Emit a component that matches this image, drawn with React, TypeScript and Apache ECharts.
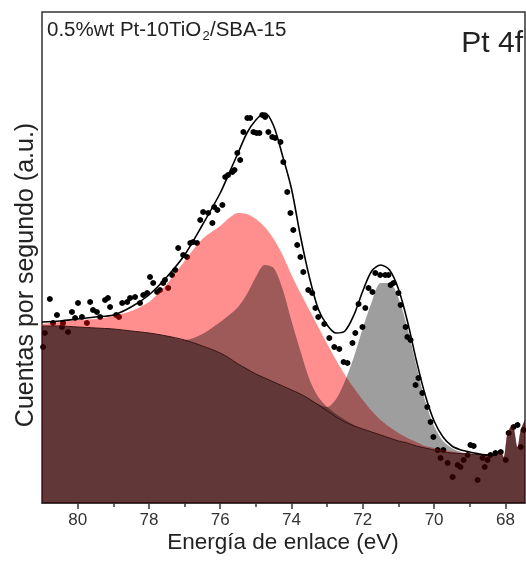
import React, { useEffect, useRef } from "react";
import * as echarts from "echarts";

// Measured spectrum points (binding energy in eV, counts in arbitrary units)
const dataE = [80.97, 80.92, 80.78, 80.69, 80.58, 80.44, 80.41, 80.27, 80.16, 80.07,
  79.99, 79.88, 79.74, 79.65, 79.57, 79.46, 79.37, 79.23, 79.15, 79.09,
  78.92, 78.84, 78.75, 78.61, 78.53, 78.39, 78.25, 78.16, 78.05, 77.97,
  77.88, 77.77, 77.69, 77.60, 77.55, 77.46, 77.35, 77.26, 77.18, 77.04,
  76.93, 76.84, 76.76, 76.65, 76.56, 76.48, 76.34, 76.22, 76.17, 76.08,
  75.94, 75.86, 75.78, 75.66, 75.60, 75.52, 75.44, 75.35, 75.24, 75.16,
  75.07, 74.98, 74.90, 74.82, 74.74, 74.65, 74.54, 74.46, 74.31, 74.23,
  74.12, 74.03, 73.95, 73.84, 73.75, 73.67, 73.53, 73.42, 73.33, 73.25,
  73.08, 72.94, 72.80, 72.66, 72.54, 72.43, 72.29, 72.21, 72.12, 72.01,
  71.93, 71.84, 71.73, 71.65, 71.51, 71.37, 71.28, 71.22, 71.14, 71.00,
  70.94, 70.80, 70.75, 70.66, 70.52, 70.44, 70.33, 70.19, 70.10, 70.02,
  69.90, 69.82, 69.74, 69.62, 69.48, 69.34, 69.26, 69.17, 69.06, 68.98,
  68.89, 68.78, 68.64, 68.58, 68.50, 68.42, 68.28, 68.13, 67.99, 67.91,
  67.77, 67.66, 67.57, 67.49];
const dataH = [156, 170, 204, 180, 188, 176, 180, 171, 191, 185,
  200, 186, 180, 201, 193, 191, 186, 203, 205, 196,
  188, 186, 200, 201, 205, 206, 200, 208, 210, 226,
  220, 211, 213, 220, 223, 215, 228, 233, 255, 248,
  246, 260, 261, 260, 283, 291, 290, 280, 296, 293,
  298, 326, 328, 331, 333, 350, 343, 371, 385, 385,
  371, 370, 370, 388, 386, 371, 366, 365, 361, 341,
  311, 290, 273, 258, 246, 231, 213, 210, 195, 186,
  179, 165, 156, 154, 141, 140, 160, 170, 199, 176,
  195, 215, 211, 230, 228, 228, 228, 218, 220, 210,
  198, 176, 166, 163, 118, 125, 110, 96, 81, 66,
  53, 45, 53, 40, 26, 38, 36, 43, 48, 58,
  57, 23, 45, 36, 43, 48, 50, 51, 43, 70,
  76, 78, 56, 73];

// Energy grid of the fitted curves
const fitE = [81, 80.5, 80, 79.5, 79, 78.5, 78, 77.5, 77, 76.5,
  76, 75.75, 75.5, 75.25, 75, 74.75, 74.5, 74.25, 74, 73.75,
  73.5, 73.25, 73, 72.75, 72.5, 72.25, 72, 71.75, 71.5, 71.25,
  71, 70.75, 70.5, 70.25, 70, 69.75, 69.5, 69.25, 69, 68.5, 68.25];
// Shirley background
const background = [177, 177, 176, 175, 174, 172, 170, 167, 163, 157,
  150, 145, 139, 134, 129, 125, 121, 117, 113, 109,
  104, 98, 92, 86, 81, 77, 74, 71, 68, 65,
  62, 60, 57, 55, 53, 51, 50, 49.5, 49, 48, 48];
// Background + broad component (~75.6 eV)
const broadPeak = [179, 181, 183, 184, 187, 192, 201, 219, 242, 264,
  277, 285, 290, 289, 284, 276, 264, 248, 228, 210,
  193, 176, 159, 143, 128, 115, 103, 92, 83, 76,
  70, 65, 61, 57, 55, 53, 51.5, 50, 49, 48, 48];
// Background + Pt 4f5/2 component (~74.7 eV)
const pt52Peak = [177, 177, 176, 175, 174, 172, 170, 167, 163, 169,
  181, 188, 196, 209, 226, 238, 235, 214, 182, 152,
  124, 106, 96, 89, 83, 78, 74, 71, 68, 65,
  62, 60, 57, 55, 53, 51, 50, 49.5, 49, 48, 48];
// Background + Pt 4f7/2 component (~71.4 eV)
const pt72Peak = [177, 177, 176, 175, 174, 172, 170, 167, 163, 157,
  150, 145, 139, 134, 129, 125, 121, 117, 113, 109,
  104, 99, 96, 104, 122, 146, 175, 201, 220, 220,
  205, 175, 138, 102, 77, 62, 55, 51, 49, 48, 48];
// Cumulative fit envelope
const envelope = [181, 182, 184, 186, 188, 196, 208, 226, 248, 278,
  310, 330, 350, 370, 383, 390, 377, 347, 314, 267,
  226, 194, 178, 170, 172, 188, 212, 232, 238, 233,
  214, 182, 143, 108, 82, 66, 57, 53, 51, 48, 48];
// Raw signal beyond the fitted window (right end)
const tailE = [68.13, 68.05, 67.94, 67.8, 67.66, 67.57, 67.45];
const tailH = [51, 46, 70, 78, 56, 73, 83];

const majorTicks = [80, 78, 76, 74, 72, 70, 68];
const minorTicks = [79, 77, 75, 73, 71, 69];

const FONT = "'Liberation Sans', Arial, sans-serif";

function pairs(xs: number[], ys: number[]) {
  return xs.map((x, i) => [x, ys[i]]);
}

export default function App() {
  const ref = useRef<HTMLDivElement>(null);
  useEffect(() => {
    if (!ref.current) return;
    const chart = echarts.init(ref.current, null, { renderer: "svg" });
    const tail = pairs(tailE, tailH);
    const areaSeries = (name: string, vals: number[], color: string, opacity: number) => ({
      name,
      type: "line",
      data: pairs(fitE, vals).concat(tail),
      smooth: 0.3,
      showSymbol: false,
      lineStyle: { width: 0 },
      areaStyle: { color, opacity },
      z: 2,
      silent: true,
    });
    chart.setOption({
      animation: false,
      grid: {
        left: 42, right: 1, top: 12, bottom: 60,
        show: true, borderColor: "#333", borderWidth: 1.5,
      },
      xAxis: [
        {
          type: "value", min: 67.45, max: 81, inverse: true, position: "bottom",
          axisLine: { show: true, lineStyle: { color: "#333", width: 1.5 } },
          axisTick: { show: true, customValues: majorTicks, length: 6, lineStyle: { color: "#333", width: 1.5 } },
          axisLabel: { customValues: majorTicks, fontSize: 17, color: "#333", margin: 8, fontFamily: FONT },
          splitLine: { show: false },
        },
        {
          type: "value", min: 67.45, max: 81, inverse: true, position: "bottom",
          axisLine: { show: false },
          axisTick: { show: true, customValues: minorTicks, length: 4, lineStyle: { color: "#333", width: 1.5 } },
          axisLabel: { show: false },
          splitLine: { show: false },
        },
      ],
      yAxis: {
        type: "value", min: 0, max: 491,
        axisLine: { show: false }, axisTick: { show: false },
        axisLabel: { show: false }, splitLine: { show: false },
      },
      series: [
        {
          name: "Datos", type: "scatter", data: pairs(dataE, dataH),
          symbolSize: 6, itemStyle: { color: "#000", opacity: 1 }, z: 1,
        },
        areaSeries("Componente ancha", broadPeak, "rgb(255,0,0)", 0.44),
        areaSeries("Pt 4f5/2", pt52Peak, "#000", 0.38),
        areaSeries("Pt 4f7/2", pt72Peak, "#000", 0.38),
        {
          name: "Fondo", type: "line", data: pairs(fitE, background), smooth: 0.3,
          showSymbol: false, lineStyle: { color: "#3a1414", width: 1 }, z: 3,
        },
        {
          name: "Ajuste", type: "line", data: pairs(fitE, envelope), smooth: 0.3,
          showSymbol: false, lineStyle: { color: "#000", width: 1.6 }, z: 4,
        },
      ],
      graphic: [
        { type: "text", x: 47, y: 28, style: { text: "0.5%wt Pt-10TiO", fontSize: 20.5, fontFamily: FONT, fill: "#222", align: "left", verticalAlign: "middle" } },
        { type: "text", x: 202.5, y: 35, style: { text: "2", fontSize: 13, fontFamily: FONT, fill: "#222", align: "left", verticalAlign: "middle" } },
        { type: "text", x: 210, y: 28, style: { text: "/SBA-15", fontSize: 20.5, fontFamily: FONT, fill: "#222", align: "left", verticalAlign: "middle" } },
        { type: "text", x: 523, y: 41, style: { text: "Pt 4f", fontSize: 30, fontFamily: FONT, fill: "#222", align: "right", verticalAlign: "middle" } },
        { type: "text", x: 283, y: 541, style: { text: "Energía de enlace (eV)", fontSize: 22.5, fontFamily: FONT, fill: "#222", align: "center", verticalAlign: "middle" } },
        { type: "text", x: 24, y: 275, rotation: Math.PI / 2, style: { text: "Cuentas por segundo (a.u.)", fontSize: 25, fontFamily: FONT, fill: "#222", align: "center", verticalAlign: "middle" } },
      ],
    });
    return () => chart.dispose();
  }, []);
  return <div ref={ref} style={{ position: "fixed", left: 0, top: 0, width: 526, height: 563 }} />;
}
